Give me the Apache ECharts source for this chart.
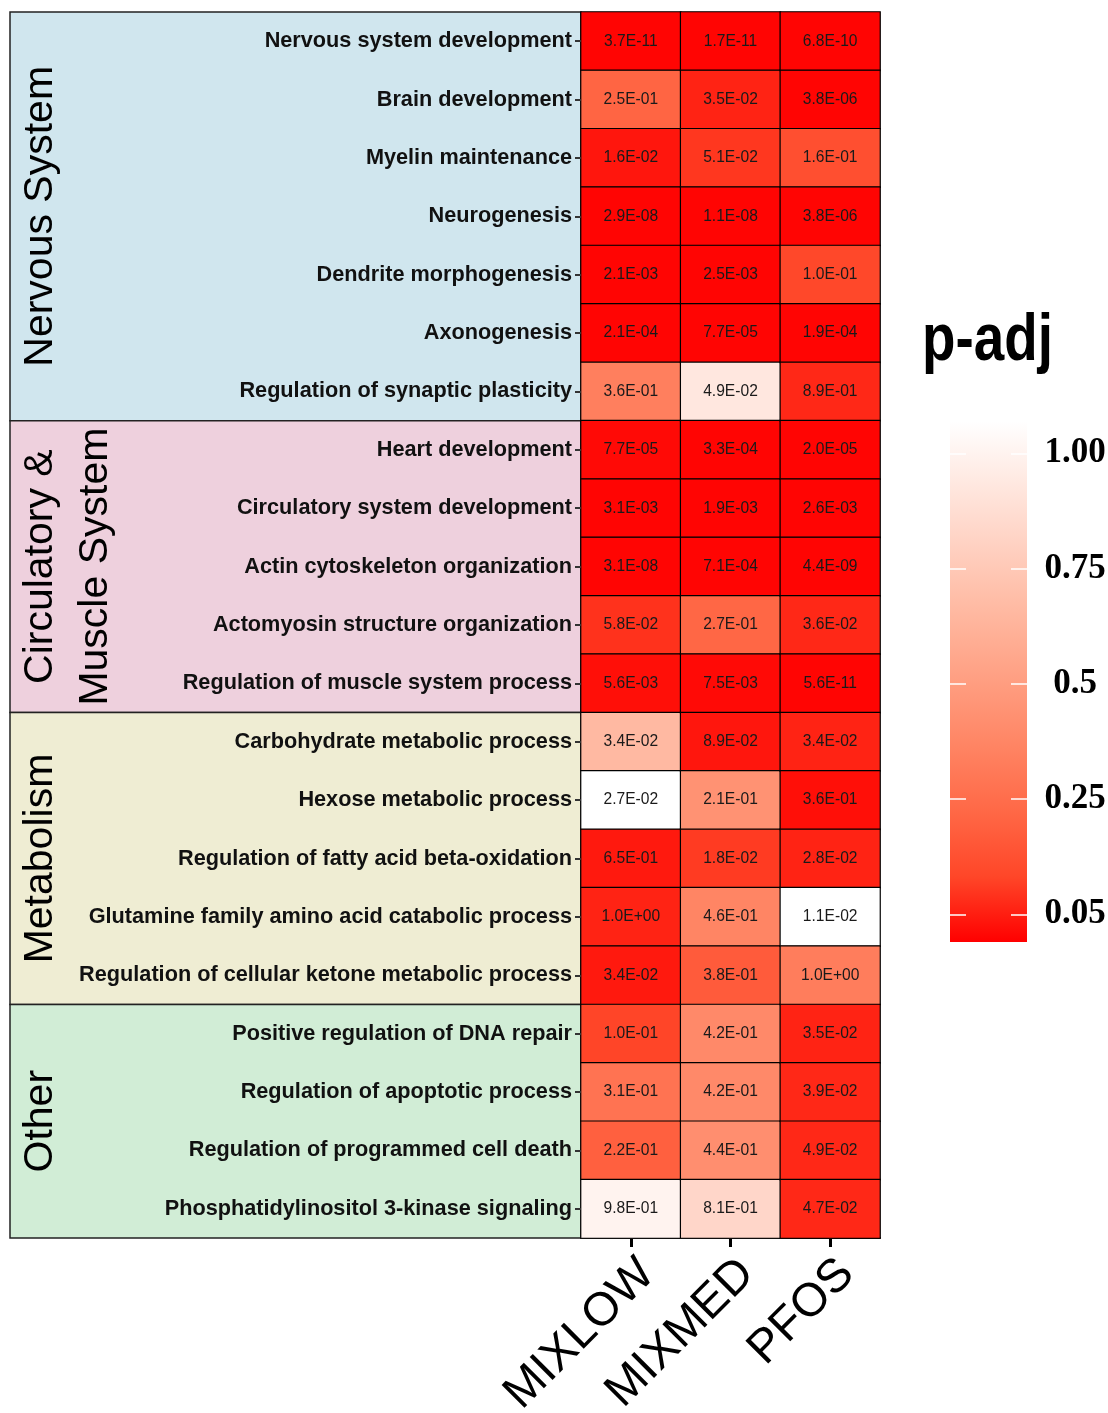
<!DOCTYPE html>
<html>
<head>
<meta charset="utf-8">
<script src="https://cdn.jsdelivr.net/npm/echarts@6/dist/echarts.min.js"></script>
<style>
html,body{margin:0;padding:0;background:#ffffff;}
#chart{width:1108px;height:1413px;}
</style>
</head>
<body>
<div id="chart"></div>
<script>
// ---------------- DATA ----------------
const terms = [
  'Nervous system development',
  'Brain development',
  'Myelin maintenance',
  'Neurogenesis',
  'Dendrite morphogenesis',
  'Axonogenesis',
  'Regulation of synaptic plasticity',
  'Heart development',
  'Circulatory system development',
  'Actin cytoskeleton organization',
  'Actomyosin structure organization',
  'Regulation of muscle system process',
  'Carbohydrate metabolic process',
  'Hexose metabolic process',
  'Regulation of fatty acid beta-oxidation',
  'Glutamine family amino acid catabolic process',
  'Regulation of cellular ketone metabolic process',
  'Positive regulation of DNA repair',
  'Regulation of apoptotic process',
  'Regulation of programmed cell death',
  'Phosphatidylinositol 3-kinase signaling'
];
const conditions = ['MIXLOW', 'MIXMED', 'PFOS'];

// text printed in each cell
const mixlowText = ['3.7E-11','2.5E-01','1.6E-02','2.9E-08','2.1E-03','2.1E-04','3.6E-01',
  '7.7E-05','3.1E-03','3.1E-08','5.8E-02','5.6E-03',
  '3.4E-02','2.7E-02','6.5E-01','1.0E+00','3.4E-02',
  '1.0E-01','3.1E-01','2.2E-01','9.8E-01'];
const mixmedText = ['1.7E-11','3.5E-02','5.1E-02','1.1E-08','2.5E-03','7.7E-05','4.9E-02',
  '3.3E-04','1.9E-03','7.1E-04','2.7E-01','7.5E-03',
  '8.9E-02','2.1E-01','1.8E-02','4.6E-01','3.8E-01',
  '4.2E-01','4.2E-01','4.4E-01','8.1E-01'];
const pfosText = ['6.8E-10','3.8E-06','1.6E-01','3.8E-06','1.0E-01','1.9E-04','8.9E-01',
  '2.0E-05','2.6E-03','4.4E-09','3.6E-02','5.6E-11',
  '3.4E-02','3.6E-01','2.8E-02','1.1E-02','1.0E+00',
  '3.5E-02','3.9E-02','4.9E-02','4.7E-02'];

// p-adj value mapped to cell fill
const mixlowFill = [-0.05, 0.21, -0.015, -0.05, -0.05, -0.05, 0.34,
  -0.04, -0.05, -0.05, 0.04, -0.03,
  0.66, 1.07, -0.01, 0.01, -0.01,
  0.08, 0.28, 0.19, 1.00];
const mixmedFill = [-0.05, 0.01, 0.05, -0.05, -0.05, -0.05, 0.93,
  -0.05, -0.05, -0.05, 0.22, -0.04,
  -0.015, 0.44, 0.06, 0.37, 0.17,
  0.39, 0.39, 0.42, 0.83];
const pfosFill = [-0.05, -0.05, 0.12, -0.05, 0.09, -0.05, 0.02,
  -0.05, -0.05, -0.05, 0.02, -0.05,
  0.01, -0.03, 0.01, 1.07, 0.33,
  0.01, 0.02, 0.02, 0.02];

const groupNames = ['Nervous System', 'Circulatory &\nMuscle System', 'Metabolism', 'Other'];
const groupStart = [0, 7, 12, 17];
const groupEnd = [6, 11, 16, 20];

const legendTitle = 'p-adj';
const legendTickValues = [0, 0.25, 0.5, 0.75, 1];
const legendTickLabels = ['0.05', '0.25', '0.5', '0.75', '1.00'];
const fillMin = -0.06;
const fillMax = 1.07;

// ---------------- STYLE ----------------
const groupColors = ['#D0E6EE', '#EED0DD', '#EFEDD3', '#D1EDD6'];
const rampColors = ['#FF0000', '#FF4628', '#FF6846', '#FF8463', '#FF9E81', '#FFB79F', '#FFCFBF', '#FFE7DF', '#FFFFFF'];
const SANS = 'Liberation Sans, Arial, sans-serif';
const SERIF = 'Liberation Serif, Times New Roman, serif';

const textCols = [mixlowText, mixmedText, pfosText];
const fillCols = [mixlowFill, mixmedFill, pfosFill];
const heatData = [];
for (let c = 0; c < conditions.length; c++) {
  for (let r = 0; r < terms.length; r++) {
    heatData.push([c, r, fillCols[c][r]]);
  }
}
const groupData = groupStart.map((s, i) => [0, s, groupEnd[i], i]);

const chart = echarts.init(document.getElementById('chart'), null, { renderer: 'canvas' });

const option = {
  backgroundColor: '#ffffff',
  animation: false,
  graphic: [
    {
      type: 'text', x: 922, y: 342, scaleX: 0.83, z: 20,
      style: { text: legendTitle, fontSize: 66, fontWeight: 'bold', fontFamily: SANS, fill: '#000',
        align: 'left', verticalAlign: 'middle' }
    }
  ],
  grid: [
    { left: 581, top: 12, width: 299, height: 1226, outerBoundsMode: 'none', containLabel: false },
    { left: 10, top: 12, width: 571, height: 1226, outerBoundsMode: 'none', containLabel: false },
    { left: 950, top: 421, width: 77, height: 521, outerBoundsMode: 'none', containLabel: false }
  ],
  xAxis: [
    {
      gridIndex: 0, type: 'category', data: conditions, position: 'bottom',
      axisLine: { show: true, lineStyle: { color: '#000', width: 2 } },
      axisTick: { show: true, alignWithLabel: true, length: 9, lineStyle: { color: '#000', width: 3 } },
      axisLabel: { interval: 0, rotate: 45, fontSize: 47, color: '#000', fontFamily: SANS, margin: 12,
        align: 'right', verticalAlign: 'top' },
      splitLine: { show: false }
    },
    { gridIndex: 1, type: 'value', min: 0, max: 1, show: false },
    { gridIndex: 2, type: 'value', min: 0, max: 1, show: false }
  ],
  yAxis: [
    {
      gridIndex: 0, type: 'category', data: terms, inverse: true, z: 10,
      axisLine: { show: false },
      axisTick: { show: true, alignWithLabel: true, length: 6, lineStyle: { color: '#333', width: 2 } },
      axisLabel: { fontSize: 21.7, fontWeight: 'bold', color: '#111', fontFamily: SANS, margin: 9 },
      splitLine: { show: false }
    },
    { gridIndex: 1, type: 'category', data: terms, inverse: true, show: false },
    {
      gridIndex: 2, type: 'value', min: fillMin, max: fillMax, position: 'left', z: 10,
      axisLine: { show: false },
      axisTick: { show: true, inside: true, length: 16, customValues: legendTickValues, lineStyle: { color: '#fff', width: 1.5 } },
      axisLabel: { show: false },
      splitLine: { show: false }
    },
    {
      gridIndex: 2, type: 'value', min: fillMin, max: fillMax, position: 'right', z: 10,
      axisLine: { show: false },
      axisTick: { show: true, inside: true, length: 16, customValues: legendTickValues, lineStyle: { color: '#fff', width: 1.5 } },
      axisLabel: {
        show: true, customValues: legendTickValues, margin: 48, align: 'center',
        fontSize: 35, fontWeight: 'bold', fontFamily: SERIF, color: '#000',
        formatter: function (v) {
          for (let i = 0; i < legendTickValues.length; i++) {
            if (Math.abs(legendTickValues[i] - v) < 1e-6) return legendTickLabels[i];
          }
          return '';
        }
      },
      splitLine: { show: false }
    }
  ],
  visualMap: {
    show: false, type: 'continuous', seriesIndex: 0, dimension: 2,
    min: fillMin, max: fillMax,
    inRange: { color: rampColors }
  },
  series: [
    {
      type: 'heatmap', xAxisIndex: 0, yAxisIndex: 0, data: heatData,
      itemStyle: { borderColor: '#000', borderWidth: 1.2 },
      label: {
        show: true, fontSize: 15.6, color: '#1a1a1a', fontFamily: SANS,
        formatter: function (p) { return textCols[p.value[0]][p.value[1]]; }
      },
      emphasis: { disabled: true }
    },
    {
      type: 'custom', xAxisIndex: 1, yAxisIndex: 1, data: groupData, z: 1,
      renderItem: function (params, api) {
        const s = api.value(1), e = api.value(2), gi = api.value(3);
        const cs = params.coordSys;
        const band = api.size([0, 1])[1];
        const y0 = api.coord([0, s])[1] - band / 2;
        const y1 = api.coord([0, e])[1] + band / 2;
        const name = groupNames[gi];
        const lines = name.split('\n').length;
        const lh = 55;
        return {
          type: 'group',
          children: [
            { type: 'rect', shape: { x: cs.x, y: y0, width: cs.width, height: y1 - y0 },
              style: { fill: groupColors[gi], stroke: '#222', lineWidth: 1.5 } },
            { type: 'text', x: cs.x + 31 + (lines - 1) * lh / 2, y: (y0 + y1) / 2, rotation: Math.PI / 2,
              style: { text: name, fontSize: 41, fontFamily: SANS, fill: '#000',
                align: 'center', verticalAlign: 'middle', lineHeight: lh } }
          ]
        };
      }
    },
    {
      type: 'custom', xAxisIndex: 2, yAxisIndex: 2, data: [[0, fillMin, fillMax]], z: 1,
      renderItem: function (params, api) {
        const cs = params.coordSys;
        const yTop = api.coord([0, api.value(2)])[1];
        const yBot = api.coord([0, api.value(1)])[1];
        const stops = rampColors.slice().reverse().map((c, i, a) => ({ offset: i / (a.length - 1), color: c }));
        return {
          type: 'rect',
          shape: { x: cs.x, y: yTop, width: cs.width, height: yBot - yTop },
          style: { fill: new echarts.graphic.LinearGradient(0, 0, 0, 1, stops) }
        };
      }
    }
  ]
};
chart.setOption(option);
</script>
</body>
</html>
